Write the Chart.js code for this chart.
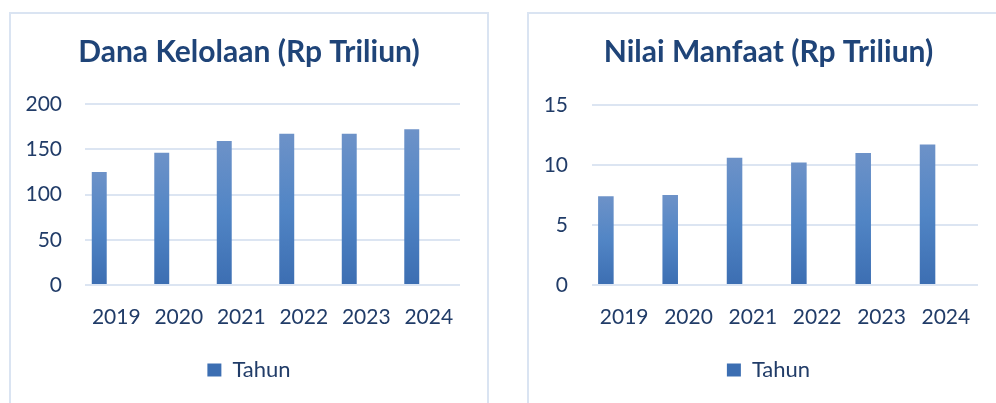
<!DOCTYPE html>
<html lang="id">
<head>
<meta charset="UTF-8">
<title>Dana Kelolaan dan Nilai Manfaat</title>
<script src="https://cdn.jsdelivr.net/npm/chart.js"></script>
<style>
    body {
        margin: 0;
        background: #ffffff;
        width: 996px;
        height: 403px;
        overflow: hidden;
        position: relative;
        font-family: Lato, sans-serif;
    }
    .box {
        position: absolute;
        top: 12px;
        height: 400px;
        border: 2px solid #dae4f2;
        box-sizing: border-box;
    }
    #box-dana { left: 9px; width: 480px; }
    #box-manfaat { left: 527px; width: 483px; }
    canvas { display: block; }
</style>
</head>
<body>

<div class="box" id="box-dana"><canvas id="dana-chart" width="476" height="389"></canvas></div>
<div class="box" id="box-manfaat"><canvas id="manfaat-chart" width="479" height="389"></canvas></div>

<script>
    // values
    const years = ["2019", "2020", "2021", "2022", "2023", "2024"];
    const danaKelolaan = [125, 146, 159, 167, 167, 172];
    const nilaiManfaat = [7.4, 7.5, 10.6, 10.2, 11.0, 11.7];
    const danaTicks = [0, 50, 100, 150, 200];
    const manfaatTicks = [0, 5, 10, 15];
    const emptySeries = [null, null, null, null, null, null];

    const textBlue = "#213c68";
    const titleBlue = "#1f4478";
    const gridBlue = "#dce5f2";

    // each bar gets its own light-to-dark gradient, like the office chart
    function barFill(context) {
        const chart = context.chart;
        if (context.type !== "data" || !chart.chartArea) return "#4f81c2";
        const y = chart.scales.y;
        const top = y.getPixelForValue(context.raw);
        const bottom = y.getPixelForValue(0);
        if (!isFinite(top) || top === bottom) return "#4f81c2";
        const g = chart.ctx.createLinearGradient(0, top, 0, bottom);
        g.addColorStop(0, "#6d92c8");
        g.addColorStop(0.5, "#5185c5");
        g.addColorStop(1, "#3c6eb2");
        return g;
    }

    function makeChart(canvasId, titleText, values, tickValues, opt) {
        const ctx = document.getElementById(canvasId).getContext("2d");
        return new Chart(ctx, {
            type: "bar",
            data: {
                labels: years,
                datasets: [
                    { label: "Tahun", data: values, backgroundColor: barFill, borderWidth: 0,
                      categoryPercentage: opt.catPct, barPercentage: opt.barPct },
                    { label: "", data: emptySeries, categoryPercentage: opt.catPct, barPercentage: opt.barPct },
                    { label: "", data: emptySeries, categoryPercentage: opt.catPct, barPercentage: opt.barPct }
                ]
            },
            options: {
                responsive: false,
                animation: false,
                layout: { padding: { top: 0, left: 0, right: 0, bottom: 12 } },
                plugins: {
                    tooltip: { enabled: false },
                    title: {
                        display: true,
                        text: titleText,
                        color: titleBlue,
                        font: { family: "Lato", size: 30, weight: "bold" },
                        padding: { top: 20, bottom: opt.titleGap }
                    },
                    legend: {
                        position: "bottom",
                        labels: {
                            boxWidth: 14,
                            boxHeight: 13,
                            color: textBlue,
                            font: { family: "Lato", size: 22 },
                            filter: item => item.datasetIndex === 0
                        }
                    }
                },
                scales: {
                    x: {
                        grid: { display: false },
                        border: { display: false },
                        ticks: { color: textBlue, font: { family: "Lato", size: 21 }, padding: 12 },
                        afterFit: s => { s.height = 64; }
                    },
                    y: {
                        min: tickValues[0],
                        max: tickValues[tickValues.length - 1],
                        afterBuildTicks: s => { s.ticks = tickValues.map(v => ({ value: v })); },
                        grid: { color: gridBlue, lineWidth: 2, drawTicks: false },
                        border: { display: false },
                        ticks: { color: textBlue, font: { family: "Lato", size: 21 }, padding: opt.tickPad },
                        afterFit: s => { s.width = opt.yWidth; }
                    },
                    // empty axis on the right, only to keep the gap after the plot
                    gap: {
                        position: "right",
                        display: true,
                        grid: { display: false },
                        border: { display: false },
                        ticks: { display: false },
                        afterFit: s => { s.width = opt.rightGap; }
                    }
                }
            }
        });
    }

    makeChart("dana-chart", "Dana Kelolaan (Rp Triliun)", danaKelolaan, danaTicks,
        { yWidth: 74, tickPad: 23, rightGap: 27, titleGap: 34, catPct: 0.816, barPct: 0.88 });

    makeChart("manfaat-chart", "Nilai Manfaat (Rp Triliun)", nilaiManfaat, manfaatTicks,
        { yWidth: 63, tickPad: 24, rightGap: 30, titleGap: 35, catPct: 0.853, barPct: 0.85 });
</script>
</body>
</html>
